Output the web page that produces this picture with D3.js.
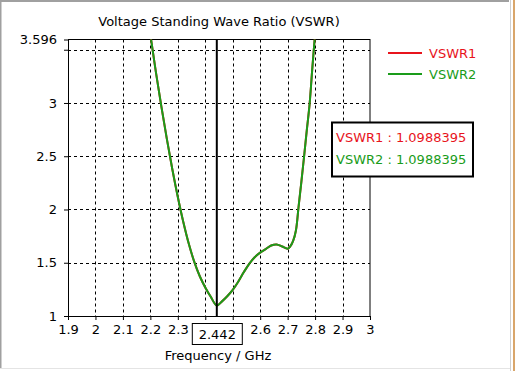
<!DOCTYPE html>
<html><head><meta charset="utf-8">
<script src="https://cdn.jsdelivr.net/npm/d3@7/dist/d3.min.js"></script>
<style>html,body{margin:0;padding:0;background:#fff;overflow:hidden}svg{display:block}</style>
</head><body>
<script>
const title = "Voltage Standing Wave Ratio (VSWR)";
const xTitle = "Frequency / GHz";
const xTicks = [1.9, 2.0, 2.1, 2.2, 2.3, 2.4, 2.5, 2.6, 2.7, 2.8, 2.9, 3.0];
const yTicks = [1, 1.5, 2, 2.5, 3, 3.5];
const yTickLabels = ["1", "1.5", "2", "2.5", "3", ""];
const yMax = 3.596;
const marker = 2.442;
const markerValues = [1.0988395, 1.0988395];
const seriesNames = ["VSWR1", "VSWR2"];
const seriesColors = ["#e8141c", "#1a9c1a"];
const freq = [2.20, 2.22, 2.24, 2.26, 2.28, 2.30, 2.32, 2.34, 2.36, 2.38, 2.40, 2.42, 2.442, 2.46, 2.48, 2.50, 2.52, 2.54, 2.56, 2.58, 2.60, 2.62, 2.64, 2.66, 2.68, 2.70, 2.71, 2.72, 2.73, 2.74, 2.75, 2.76, 2.77, 2.78, 2.79, 2.80];
const vswr1 = [3.643, 3.293, 2.968, 2.663, 2.378, 2.118, 1.883, 1.678, 1.508, 1.373, 1.268, 1.180, 1.0988, 1.135, 1.185, 1.245, 1.322, 1.41, 1.49, 1.552, 1.595, 1.628, 1.662, 1.672, 1.652, 1.632, 1.655, 1.705, 1.80, 2.03, 2.26, 2.5, 2.75, 2.99, 3.33, 3.65];
const vswr2 = vswr1.slice();

const W = 516, H = 371;
const svg = d3.select("body").append("svg").attr("width", W).attr("height", H);
const font = "DejaVu Sans";
const fs = 13;

// window frame
svg.append("rect").attr("x",0).attr("y",0).attr("width",509).attr("height",2).attr("fill","#a0a0a0");
svg.append("rect").attr("x",0).attr("y",0).attr("width",1.5).attr("height",369).attr("fill","#a0a0a0");
svg.append("rect").attr("x",510).attr("y",0).attr("width",1).attr("height",H).attr("fill","#cfcfcf");
svg.append("rect").attr("x",513).attr("y",0).attr("width",2).attr("height",H).attr("fill","#d9a66b");
svg.append("rect").attr("x",0).attr("y",368).attr("width",510).attr("height",1).attr("fill","#e4e4e4");

const L = 68, R = 370, T = 39.5, B = 316;
const x = d3.scaleLinear().domain([1.9, 3.0]).range([L, R]);
const y = d3.scaleLinear().domain([1, yMax]).range([B, T]);

// grid
const g = svg.append("g");
g.selectAll(".vg").data(xTicks.slice(1, -1)).enter().append("line")
  .attr("x1", d => Math.round(x(d)) + 0.5).attr("x2", d => Math.round(x(d)) + 0.5)
  .attr("y1", T).attr("y2", B).attr("stroke", "#000").attr("stroke-width", 1).attr("stroke-dasharray", "3,3");
g.selectAll(".hg").data(yTicks.slice(1)).enter().append("line")
  .attr("y1", d => Math.round(y(d)) + 0.5).attr("y2", d => Math.round(y(d)) + 0.5)
  .attr("x1", L).attr("x2", R).attr("stroke", "#000").attr("stroke-width", 1).attr("stroke-dasharray", "3,3");

// axes
const xAxis = d3.axisBottom(x).tickValues(xTicks).tickSize(4).tickFormat(d => (d === 2.4 || d === 2.5) ? "" : d3.format("~g")(d)).tickPadding(5);
const xa = svg.append("g").attr("transform", `translate(0,${B})`).call(xAxis);
xa.select(".domain").remove();
const yAxis = d3.axisLeft(y).tickValues(yTicks.concat([yMax])).tickSize(4)
  .tickFormat(d => d === yMax ? "3.596" : yTickLabels[yTicks.indexOf(d)]).tickPadding(7);
const ya = svg.append("g").attr("transform", `translate(${L},0)`).call(yAxis);
ya.select(".domain").remove();
svg.selectAll(".tick text").attr("font-family", font).attr("font-size", fs).attr("fill", "#000");
svg.selectAll(".tick line").attr("stroke", "#000");

// plot frame
svg.append("rect").attr("x", L + 0.5).attr("y", T).attr("width", R - L - 0.5).attr("height", B - T + 0.5)
  .attr("fill", "none").attr("stroke", "#000").attr("stroke-width", 1);

// curves
svg.append("clipPath").attr("id", "clp").append("rect").attr("x", L).attr("y", T).attr("width", R - L).attr("height", B - T);
const line = d3.line().x((d, i) => x(freq[i])).y(d => y(d)).curve(d3.curveCatmullRom.alpha(0.5));
[vswr1, vswr2].forEach((s, k) => {
  svg.append("path").attr("d", line(s)).attr("fill", "none").attr("stroke", seriesColors[k])
    .attr("stroke-width", 2).attr("clip-path", "url(#clp)");
});

// marker line
svg.append("line").attr("x1", x(marker)).attr("x2", x(marker)).attr("y1", T).attr("y2", B)
  .attr("stroke", "#000").attr("stroke-width", 2);

// marker label on x axis
const mx = x(marker);
svg.append("rect").attr("x", mx - 24.5).attr("y", 323.5).attr("width", 50).attr("height", 21)
  .attr("fill", "#fff").attr("stroke", "#000").attr("stroke-width", 1);
svg.append("text").attr("x", mx + 0.5).attr("y", 339).attr("text-anchor", "middle")
  .attr("font-family", font).attr("font-size", fs).text(d3.format(".3f")(marker));

// titles
svg.append("text").attr("x", 219).attr("y", 26).attr("text-anchor", "middle")
  .attr("font-family", font).attr("font-size", fs).text(title);
svg.append("text").attr("x", 218).attr("y", 360).attr("text-anchor", "middle")
  .attr("font-family", font).attr("font-size", fs).text(xTitle);

// legend
seriesNames.forEach((n, k) => {
  const ly = 53 + k * 21;
  svg.append("line").attr("x1", 388).attr("x2", 422).attr("y1", ly).attr("y2", ly)
    .attr("stroke", seriesColors[k]).attr("stroke-width", 2);
  svg.append("text").attr("x", 429).attr("y", ly + 5).attr("font-family", font).attr("font-size", fs)
    .attr("fill", seriesColors[k]).text(n);
});

// marker tooltip
svg.append("rect").attr("x", 332).attr("y", 122.5).attr("width", 141).attr("height", 54)
  .attr("fill", "#fff").attr("stroke", "#000").attr("stroke-width", 2);
seriesNames.forEach((n, k) => {
  svg.append("text").attr("x", 336).attr("y", 142 + k * 21.5).attr("font-family", font).attr("font-size", fs)
    .attr("fill", seriesColors[k]).text(n + " : " + markerValues[k].toFixed(7));
});
</script>
</body></html>
